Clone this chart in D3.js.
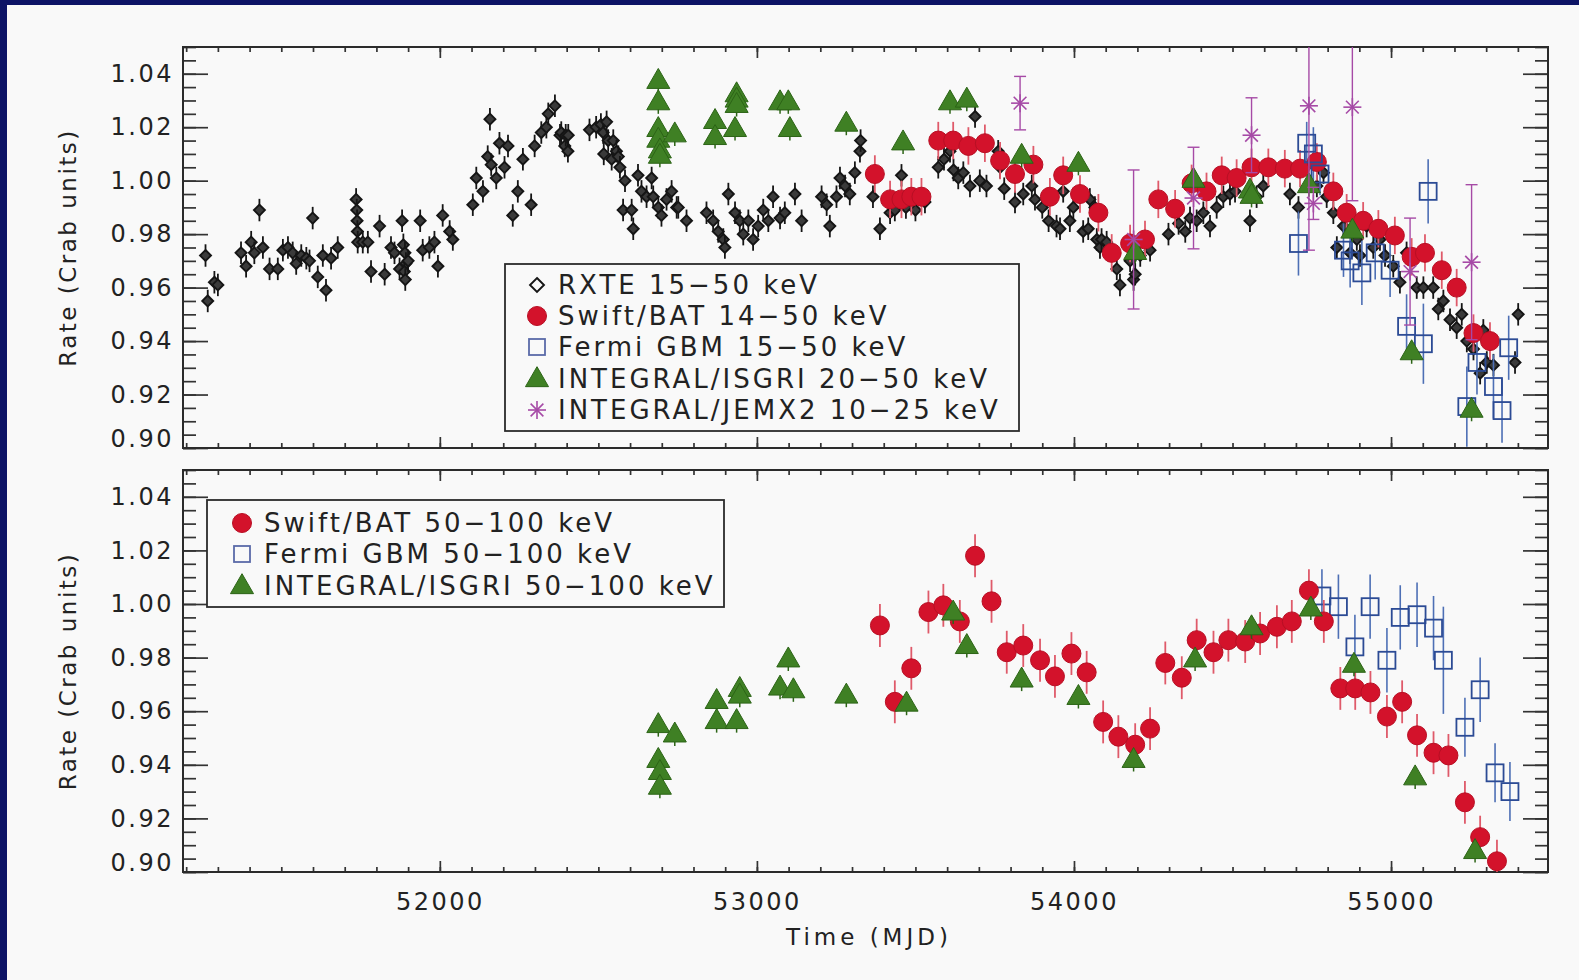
<!DOCTYPE html>
<html>
<head>
<meta charset="utf-8">
<script src="https://cdn.jsdelivr.net/npm/d3@7"></script>
<style>
  body { margin: 0; background: #0d1466; }
  svg { display: block; }
</style>
</head>
<body>
<svg width="1579" height="980"></svg>
<script>
// ---- data (MJD, rate in Crab units[, error]) ----
const rxte = [
  [51261,0.972],[51268,0.955],[51289,0.962],[51300,0.961],
  [51373,0.973],[51389,0.968],[51405,0.977],[51415,0.973],[51431,0.989],[51442,0.975],[51463,0.967],[51489,0.967],
  [51505,0.974],[51521,0.975],[51536,0.973],[51547,0.969],[51563,0.972],[51579,0.971],[51589,0.970],[51599,0.986],
  [51615,0.964],[51631,0.972],[51641,0.959],[51657,0.971],[51678,0.975],
  [51736,0.993],[51738,0.989],[51739,0.985],[51740,0.981],[51741,0.977],[51757,0.977],[51773,0.977],[51783,0.966],
  [51810,0.983],[51826,0.965],[51846,0.975],[51857,0.973],[51873,0.967],[51881,0.985],[51885,0.976],[51890,0.973],
  [51893,0.969],[51888,0.966],[51891,0.963],[51900,0.970],[51938,0.985],[51946,0.974],[51967,0.975],[51983,0.977],
  [51994,0.968],[52009,0.987],[52031,0.981],[52041,0.978],
  [52104,0.991],[52115,1.001],[52136,0.996],[52151,1.009],[52158,1.023],[52162,1.006],[52178,1.001],[52188,1.014],
  [52204,1.005],[52215,1.013],[52230,0.987],[52246,0.996],[52262,1.008],[52288,0.991],[52299,1.013],[52320,1.018],
  [52336,1.020],[52342,1.025],[52363,1.028],[52379,1.017],[52383,1.018],[52394,1.013],[52397,1.017],[52404,1.011],
  [52405,1.017],
  [52472,1.019],[52493,1.020],[52508,1.021],[52515,1.018],[52526,1.022],[52531,1.015],[52517,1.010],[52542,1.008],
  [52547,1.015],[52557,1.011],[52563,1.009],[52568,1.005],[52584,1.000],[52578,0.989],[52605,0.989],[52610,0.982],
  [52625,1.002],[52636,0.996],[52652,0.994],[52668,1.001],[52673,0.994],[52689,0.990],[52699,0.987],[52715,0.993],
  [52731,0.996],[52747,0.990],[52752,0.990],[52778,0.985],
  [52841,0.988],[52862,0.985],[52878,0.981],[52894,0.978],[52899,0.975],[52910,0.995],[52931,0.988],[52946,0.985],
  [52957,0.980],[52973,0.985],[52988,0.978],[53004,0.983],[53020,0.989],[53036,0.985],[53051,0.994],[53073,0.986],
  [53088,0.988],[53120,0.995],[53141,0.985],
  [53204,0.994],[53220,0.991],[53230,0.983],[53251,0.994],[53262,1.001],[53278,0.998],[53293,0.995],[53309,1.003],
  [53325,1.011],[53327,1.015],[53366,0.994],[53388,0.982],[53420,0.988],[53435,0.989],[53456,1.002],[53470,0.990],
  [53500,0.989],[53530,0.992],
  [53572,1.005],[53590,1.008],[53609,1.011],[53620,1.004],[53635,1.001],[53651,1.003],[53672,0.998],[53688,1.024],
  [53703,1.000],[53724,0.998],[53761,1.011],[53767,1.005],[53780,0.997],[53814,0.992],[53840,0.995],[53867,0.998],
  [53877,0.993],[53900,0.990],[53920,0.985],[53945,0.983],[53956,0.982],[53966,0.996],[53987,0.985],[53998,0.990],
  [54029,0.981],[54045,0.982],[54050,0.993],[54066,0.990],[54072,0.978],[54082,0.975],[54087,0.978],[54103,0.977],
  [54135,0.967],[54145,0.961],[54177,0.970],[54188,0.963],[54193,0.965],[54209,0.972],[54240,0.974],
  [54298,0.980],[54330,0.984],[54351,0.981],[54366,0.986],[54387,0.985],[54408,0.988],[54429,0.983],[54450,0.990],
  [54471,0.994],[54492,0.995],[54508,0.996],[54555,0.985],[54576,0.994],[54597,0.998],[54681,0.995],[54708,0.990],
  [54766,0.998],[54787,1.003],[54797,0.994],[54818,0.988],[54829,0.975],[54850,0.983],[54871,0.973],[54892,0.978],
  [54902,0.972],[54923,0.983],[54944,0.975],[54965,0.978],[54981,0.972],[55007,0.968],[55028,0.962],[55049,0.973],
  [55081,0.960],[55102,0.960],[55133,0.960],[55149,0.952],[55165,0.955],[55186,0.948],[55207,0.945],[55223,0.950],
  [55239,0.940],[55260,0.937],[55281,0.928],[55291,0.944],[55302,0.932],[55323,0.931],[55391,0.932],[55401,0.950]
];

const batSoft = [
  [53372,1.0025],[53420,0.993],[53456,0.993],[53487,0.994],[53519,0.994],[53572,1.015],[53619,1.015],[53667,1.013],
  [53719,1.014],[53767,1.0075],[53814,1.0025],[53872,1.006],[53924,0.994],[53966,1.002],[54019,0.995],[54077,0.988],
  [54119,0.973],[54177,0.9765],[54224,0.978],[54266,0.993],[54319,0.9895],[54371,0.999],[54418,0.996],[54466,1.002],
  [54513,1.001],[54560,1.005],[54613,1.005],[54665,1.0045],[54713,1.0045],[54766,1.007],[54818,0.996],[54860,0.988],
  [54912,0.985],[54960,0.982],[55012,0.9795],[55065,0.9715],[55107,0.973],[55160,0.9665],[55207,0.960],[55260,0.943],
  [55312,0.940]
];

const gbmSoft = [
  [54708,0.9765,0.012],[54734,1.014,0.008],[54755,1.010,0.010],[54776,1.0025,0.008],[54850,0.974,0.010],
  [54871,0.970,0.010],[54908,0.9655,0.012],[54950,0.973,0.010],[54997,0.9665,0.010],[55049,0.9455,0.012],
  [55102,0.939,0.015],[55117,0.996,0.012],[55239,0.9155,0.015],[55271,0.932,0.012],[55323,0.923,0.012],
  [55350,0.914,0.012],[55371,0.9375,0.012]
];

const isgriSoft = [
  [52689,1.037],[52689,1.029],[52689,1.019],[52689,1.015],[52694,1.011],[52694,1.009],[52741,1.017],[52868,1.022],
  [52868,1.016],[52936,1.032],[52936,1.030],[52936,1.028],[52931,1.019],[53073,1.029],[53099,1.029],[53104,1.019],
  [53282,1.021],[53461,1.014],[53609,1.029],[53662,1.030],[53835,1.009],[54014,1.006],[54193,0.973],[54377,1.000],
  [54555,0.996],[54560,0.994],[54741,0.998],[54878,0.981],[55065,0.9355],[55254,0.914]
];

const jemx = [
  [53830,1.029,0.010],[54188,0.978,0.026],[54377,0.9935,0.019],[54560,1.017,0.014],[54741,1.028,0.054],
  [54755,0.9915,0.006],[54878,1.0275,0.035],[55060,0.966,0.020],[55254,0.9695,0.029]
];

const batHard = [
  [53388,0.992],[53435,0.9635],[53487,0.976],[53541,0.997],[53588,0.9995],[53640,0.9935],[53688,1.018],[53740,1.001],
  [53788,0.982],[53840,0.9845],[53893,0.979],[53940,0.973],[53992,0.9815],[54040,0.9745],[54092,0.956],[54140,0.9505],
  [54193,0.9475],[54240,0.9535],[54288,0.978],[54340,0.9725],[54387,0.9865],[54440,0.982],[54487,0.9865],[54540,0.986],
  [54587,0.989],[54640,0.9915],[54687,0.9935],[54741,1.005],[54788,0.9935],[54840,0.9685],[54887,0.9685],[54935,0.967],
  [54987,0.958],[55035,0.9635],[55082,0.951],[55134,0.9445],[55181,0.9435],[55233,0.926],[55281,0.913],[55334,0.904]
];

const gbmHard = [
  [54782,1.003,0.010],[54834,0.999,0.012],[54886,0.984,0.012],[54934,0.999,0.012],[54987,0.979,0.012],
  [55029,0.995,0.012],[55082,0.996,0.012],[55134,0.991,0.012],[55165,0.979,0.020],[55233,0.954,0.011],
  [55281,0.968,0.012],[55328,0.937,0.011],[55375,0.930,0.011]
];

const isgriHard = [
  [52689,0.9545],[52741,0.951],[52689,0.9415],[52694,0.937],[52694,0.9315],[52873,0.9635],[52873,0.956],[52946,0.968],
  [52946,0.9655],[52936,0.956],[53099,0.979],[53073,0.9685],[53115,0.9675],[53282,0.9655],[53472,0.9625],[53619,0.9965],
  [53662,0.984],[53835,0.9715],[54014,0.965],[54188,0.9415],[54382,0.979],[54560,0.991],[54747,0.998],[54883,0.977],
  [55076,0.935],[55265,0.9075]
];

const xMajor = [52000, 53000, 54000, 55000];
const xMinor = d3.range(51200, 55500, 100);
const yMajor = [0.90, 0.92, 0.94, 0.96, 0.98, 1.00, 1.02, 1.04];
const yMinor = d3.range(0, 31).map(i => Math.round((0.90 + i * 0.005) * 1000) / 1000);

const legendTop = [
  ['rxte', 'RXTE 15\u221250 keV'],
  ['bat', 'Swift/BAT 14\u221250 keV'],
  ['gbm', 'Fermi GBM 15\u221250 keV'],
  ['isgri', 'INTEGRAL/ISGRI 20\u221250 keV'],
  ['jemx', 'INTEGRAL/JEMX2 10\u221225 keV']
];
const legendBottom = [
  ['bat', 'Swift/BAT 50\u2212100 keV'],
  ['gbm', 'Fermi GBM 50\u2212100 keV'],
  ['isgri', 'INTEGRAL/ISGRI 50\u2212100 keV']
];

// ---- page ----
const svg = d3.select('svg');
const FONT = "'DejaVu Sans', sans-serif";
const INK = '#222';

svg.append('rect').attr('width', 1579).attr('height', 980).attr('fill', '#0d1466');
svg.append('rect').attr('x', 7).attr('y', 5).attr('width', 1572).attr('height', 975).attr('fill', '#f9f9f9');

const L = 183, R = 1548;
const x = d3.scaleLinear().domain([51190, 55495]).range([L, R]);
const yTop = d3.scaleLinear().domain([0.90, 1.05]).range([448, 47]);
const yBot = d3.scaleLinear().domain([0.90, 1.05]).range([872, 470]);

const C = {
  rxte: '#151515',
  red: '#d3122b', redBar: '#df5a6a',
  green: '#3f8024', greenEdge: '#2c6416',
  blue: '#2c4b95', blueBar: '#4d6fb5',
  mag: '#a64aa6'
};

function styleAxis(g) {
  g.selectAll('.domain').remove();
  g.selectAll('.tick line').attr('stroke', '#333').attr('stroke-width', 1.7);
  g.selectAll('text')
    .attr('fill', INK)
    .style('font-family', FONT)
    .style('font-size', '24px')
    .style('letter-spacing', '2.5px');
}

function drawAxes(y, showXLabels) {
  const top = y.range()[1], bottom = y.range()[0];
  const g = svg.append('g');

  // left
  g.append('g').attr('transform', `translate(${L},0)`)
    .call(d3.axisLeft(y).tickValues(yMinor).tickSizeInner(-13).tickSizeOuter(0).tickFormat(''))
    .call(styleAxis);
  g.append('g').attr('transform', `translate(${L},0)`)
    .call(d3.axisLeft(y).tickValues(yMajor).tickSizeInner(-25).tickSizeOuter(0).tickPadding(9).tickFormat(d3.format('.2f')))
    .call(styleAxis)
    .call(a => a.selectAll('.tick').filter(d => d === 0.90).select('text').attr('dy', '-0.05em'));
  // right
  g.append('g').attr('transform', `translate(${R},0)`)
    .call(d3.axisRight(y).tickValues(yMinor).tickSizeInner(-13).tickSizeOuter(0).tickFormat(''))
    .call(styleAxis);
  g.append('g').attr('transform', `translate(${R},0)`)
    .call(d3.axisRight(y).tickValues(yMajor).tickSizeInner(-25).tickSizeOuter(0).tickFormat(''))
    .call(styleAxis);
  // top
  g.append('g').attr('transform', `translate(0,${top})`)
    .call(d3.axisTop(x).tickValues(xMinor).tickSizeInner(-5).tickSizeOuter(0).tickFormat(''))
    .call(styleAxis);
  g.append('g').attr('transform', `translate(0,${top})`)
    .call(d3.axisTop(x).tickValues(xMajor).tickSizeInner(-11).tickSizeOuter(0).tickFormat(''))
    .call(styleAxis);
  // bottom
  g.append('g').attr('transform', `translate(0,${bottom})`)
    .call(d3.axisBottom(x).tickValues(xMinor).tickSizeInner(-5).tickSizeOuter(0).tickFormat(''))
    .call(styleAxis);
  g.append('g').attr('transform', `translate(0,${bottom})`)
    .call(d3.axisBottom(x).tickValues(xMajor).tickSizeInner(-11).tickSizeOuter(0).tickPadding(21)
      .tickFormat(showXLabels ? d3.format('d') : ''))
    .call(styleAxis);

  g.append('rect')
    .attr('x', L).attr('y', top).attr('width', R - L).attr('height', bottom - top)
    .attr('fill', 'none').attr('stroke', '#2b2b2b').attr('stroke-width', 2);

  // y title
  g.append('text')
    .attr('transform', `translate(76,${(top + bottom) / 2}) rotate(-90)`)
    .attr('text-anchor', 'middle')
    .attr('fill', INK)
    .style('font-family', FONT).style('font-size', '23px').style('letter-spacing', '2.5px')
    .text('Rate (Crab units)');
}

// ---- symbols ----
function diamond(g, cx, cy, r, fill) {
  g.append('path')
    .attr('d', `M${cx},${cy - r}L${cx + r},${cy}L${cx},${cy + r}L${cx - r},${cy}Z`)
    .attr('fill', fill).attr('stroke', C.rxte).attr('stroke-width', 1.9);
}
function circle(g, cx, cy) {
  g.append('circle').attr('cx', cx).attr('cy', cy).attr('r', 9.5)
    .attr('fill', C.red).attr('stroke', '#b80f24').attr('stroke-width', 1);
}
function square(g, cx, cy, s, color) {
  g.append('rect').attr('x', cx - s / 2).attr('y', cy - s / 2).attr('width', s).attr('height', s)
    .attr('fill', 'none').attr('stroke', color).attr('stroke-width', 1.8);
}
function triangle(g, cx, cy) {
  g.append('path')
    .attr('d', d3.symbol(d3.symbolTriangle, 230)())
    .attr('transform', `translate(${cx},${cy})`)
    .attr('fill', C.green).attr('stroke', C.greenEdge).attr('stroke-width', 1);
}
function asterisk(g, cx, cy) {
  const r = 9;
  [0, 45, 90, 135].forEach(a => {
    const dx = r * Math.cos(a * Math.PI / 180), dy = r * Math.sin(a * Math.PI / 180);
    g.append('line').attr('x1', cx - dx).attr('y1', cy - dy).attr('x2', cx + dx).attr('y2', cy + dy)
      .attr('stroke', C.mag).attr('stroke-width', 1.6);
  });
}
function vbar(g, cx, y, v, e, color, w, cap) {
  g.append('line').attr('x1', cx).attr('x2', cx).attr('y1', y(v - e)).attr('y2', y(v + e))
    .attr('stroke', color).attr('stroke-width', w);
  if (cap) {
    [v - e, v + e].forEach(t => g.append('line')
      .attr('x1', cx - cap).attr('x2', cx + cap).attr('y1', y(t)).attr('y2', y(t))
      .attr('stroke', color).attr('stroke-width', w));
  }
}

function panel(y, id) {
  const top = y.range()[1], bottom = y.range()[0];
  svg.append('clipPath').attr('id', id)
    .append('rect').attr('x', L).attr('y', top).attr('width', R - L).attr('height', bottom - top);
  return svg.append('g').attr('clip-path', `url(#${id})`);
}

// ---- top panel ----
drawAxes(yTop, false);
const gt = panel(yTop, 'clipTop');

rxte.forEach(([t, v]) => {
  const cx = x(t), cy = yTop(v);
  vbar(gt, cx, yTop, v, 0.0042, C.rxte, 1.8);
  gt.append('line').attr('x1', cx - 5).attr('x2', cx + 5).attr('y1', cy).attr('y2', cy)
    .attr('stroke', C.rxte).attr('stroke-width', 1.8);
  diamond(gt, cx, cy, 5.5, '#3a3a3a');
});
gbmSoft.forEach(([t, v, e]) => vbar(gt, x(t), yTop, v, e, C.blueBar, 1.6));
batSoft.forEach(([t, v]) => vbar(gt, x(t), yTop, v, 0.007, C.redBar, 1.8));
batSoft.forEach(([t, v]) => circle(gt, x(t), yTop(v)));
gbmSoft.forEach(([t, v]) => square(gt, x(t), yTop(v), 17, C.blue));
isgriSoft.forEach(([t, v]) => vbar(gt, x(t), yTop, v, 0.004, C.greenEdge, 1.5));
isgriSoft.forEach(([t, v]) => triangle(gt, x(t), yTop(v)));
jemx.forEach(([t, v, e]) => {
  vbar(gt, x(t), yTop, v, e, C.mag, 1.4, 6);
  asterisk(gt, x(t), yTop(v));
});

// ---- bottom panel ----
drawAxes(yBot, true);
const gb = panel(yBot, 'clipBot');

gbmHard.forEach(([t, v, e]) => vbar(gb, x(t), yBot, v, e, C.blueBar, 1.6));
gbmHard.forEach(([t, v]) => square(gb, x(t), yBot(v), 17, C.blue));
batHard.forEach(([t, v]) => vbar(gb, x(t), yBot, v, 0.008, C.redBar, 1.8));
batHard.forEach(([t, v]) => circle(gb, x(t), yBot(v)));
isgriHard.forEach(([t, v]) => vbar(gb, x(t), yBot, v, 0.004, C.greenEdge, 1.5));
isgriHard.forEach(([t, v]) => triangle(gb, x(t), yBot(v)));

// x title
svg.append('text')
  .attr('x', 869).attr('y', 945)
  .attr('text-anchor', 'middle')
  .attr('fill', INK)
  .style('font-family', FONT).style('font-size', '23px').style('letter-spacing', '4px')
  .text('Time (MJD)');

// ---- legends ----
function legend(items, box, symX, textX, rows) {
  const g = svg.append('g');
  g.append('rect').attr('x', box[0]).attr('y', box[1]).attr('width', box[2] - box[0]).attr('height', box[3] - box[1])
    .attr('fill', '#f9f9f9').attr('stroke', '#2b2b2b').attr('stroke-width', 1.8);
  items.forEach(([kind, label], i) => {
    const cy = rows[i];
    if (kind === 'rxte') diamond(g, symX, cy, 7, 'none');
    if (kind === 'bat') circle(g, symX, cy);
    if (kind === 'gbm') square(g, symX, cy, 16, '#5a6aa8');
    if (kind === 'isgri') triangle(g, symX, cy + 1);
    if (kind === 'jemx') asterisk(g, symX, cy);
    g.append('text').attr('x', textX).attr('y', cy).attr('dy', '0.36em')
      .attr('fill', INK)
      .style('font-family', FONT).style('font-size', '26px').style('letter-spacing', '3px')
      .text(label);
  });
}
legend(legendTop, [505, 264, 1019, 431], 537, 558, [285, 316, 347, 379, 410]);
legend(legendBottom, [207, 500, 724, 607], 242, 264, [523, 554, 586]);
</script>
</body>
</html>
